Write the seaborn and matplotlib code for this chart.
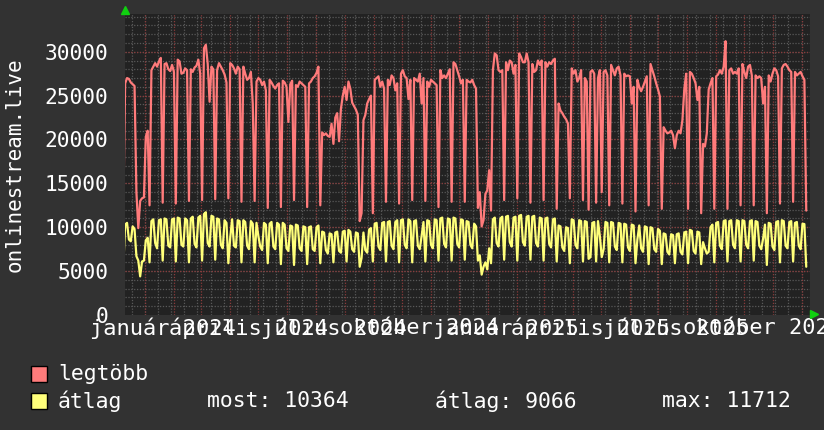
import pandas as pd
import matplotlib
matplotlib.use("Agg")
import matplotlib.pyplot as plt
import seaborn as sns
from matplotlib.patches import Rectangle

# ==================== DATA ====================
# 2-day buckets, first bucket 2023-12-09
START = "2023-12-09"

LEGTOBB = [
    11800,
    26400, 27000, 26900, 26500, 26300, 26100, 14000,
    9900, 13000, 13300, 13400, 20300, 21000, 12500,
    27900, 28300, 28700, 28300, 28900, 29300, 12800,
    28600, 28700, 28000, 27800, 28500, 27700, 12700,
    29100, 28900, 27500, 27600, 28100, 27900, 13000,
    28000, 27700, 28200, 28400, 29100, 27500, 13100,
    30400, 30800, 28600, 24300, 28300, 28000, 13200,
    27900, 28700, 28300, 27900, 27400, 26500, 13300,
    28700, 28500, 28100, 27500, 28300, 28000, 12900,
    28300, 27500, 26800, 27000, 27700, 24100, 13000,
    26600, 27000, 26800, 26200, 26600, 25600, 12200,
    26800, 26500, 26100, 25800, 26200, 26400, 12300,
    26700, 26500, 26000, 22000, 26300, 26700, 13100,
    26200, 26000, 26600, 26400, 26200, 26000, 12300,
    26400, 26600, 27000, 27200, 27600, 28300, 12500,
    20800, 20500, 20700, 20400, 20300, 21800, 19500,
    22500, 23000, 19800, 23500, 25000, 26000, 24500,
    26600, 25800, 24200, 23800, 23400, 22800, 10700,
    11600, 22200, 22800, 24100, 24600, 25000, 11600,
    26800, 27000, 27200, 26000, 26600, 25800, 12900,
    26800, 26200, 27300, 27000, 25600, 26400, 12700,
    27500, 27900, 27200, 27000, 24600, 26800, 13100,
    27000, 26800, 26600, 27500, 24100, 27000, 13000,
    26600, 26000, 26800, 26600, 26400, 26200, 12300,
    27900, 27000, 27300, 27000, 27500, 28000, 12900,
    28800, 28600, 27900, 27200, 26400, 26800, 12900,
    26800, 26600, 26500, 26800, 26200, 25800, 12200,
    14000, 10100, 10800, 13800, 14200, 16500, 11900,
    27900, 29800, 29600, 27900, 27700, 27900, 13100,
    28800, 27900, 29000, 28800, 27500, 28500, 13300,
    29800, 29400, 28800, 28800, 29800, 28800, 12800,
    28600, 27700, 27900, 29000, 28500, 29000, 13100,
    28800, 28300, 28800, 28600, 29000, 29200, 12100,
    24100, 23300, 23000, 22600, 22300, 21800, 13300,
    28100, 27500, 27900, 26600, 27000, 27900, 13100,
    27000, 26600, 12000, 27700, 27900, 27500, 12800,
    27000, 27900, 14000, 27700, 27900, 27300, 12500,
    28500, 27900, 27300, 28100, 28300, 27300, 12700,
    27500, 27200, 27300, 27200, 24100, 26000, 11800,
    26800, 26000, 25500, 26000, 26600, 27200, 12500,
    28600, 27900, 27200, 26400, 25700, 24900, 12100,
    21400, 21000, 20700, 20800, 21000, 20500, 19000,
    20500, 21000, 20700, 22200, 25700, 27500, 12100,
    27700, 27500, 27000, 26400, 24500, 26000, 11600,
    19500, 19200, 20700, 25700, 26400, 27000, 12100,
    27200, 27400, 27900, 27500, 28300, 31200, 12100,
    27900, 28100, 27500, 27700, 27500, 28100, 12500,
    28600, 27700, 27000, 28300, 28500, 27300, 12500,
    27300, 27000, 27200, 27000, 24100, 26000, 11600,
    27300, 26600, 27500, 28100, 27900, 27200, 12700,
    28100, 28500, 28600, 28300, 27900, 27700, 12900,
    27700, 27300, 27500, 27700, 27200, 26800, 11900,
]

ATLAG = [
    5600,
    10300, 10500, 8600, 8400, 10100, 9800, 6700,
    6200, 4400, 6100, 6200, 8500, 8800, 6000,
    10700, 10900, 8200, 7600, 10800, 10900, 6200,
    11000, 10900, 7900, 7700, 10900, 11000, 6100,
    11100, 11000, 8000, 7800, 11000, 10800, 6000,
    11000, 11200, 8100, 7700, 11100, 11300, 6200,
    11500, 11712, 8200, 7800, 11300, 11200, 6300,
    11000, 10900, 8000, 7600, 10800, 10500, 5900,
    8800, 10900, 7900, 7700, 10800, 10700, 6000,
    10800, 10600, 7900, 7500, 10700, 10400, 6000,
    10500, 9000, 7800, 7400, 10500, 10300, 5900,
    10400, 10600, 7800, 7500, 10500, 10300, 5800,
    10500, 10300, 7600, 7300, 10200, 10100, 5700,
    10300, 10200, 7600, 7300, 10100, 10000, 5800,
    10000, 10100, 7500, 7300, 10000, 10200, 5900,
    9500, 9400, 7400, 7000, 9300, 9200, 6000,
    9400, 9500, 7300, 7100, 9500, 9600, 6100,
    9700, 9500, 7500, 7200, 9400, 9300, 5500,
    6500, 9400, 7400, 7100, 9700, 9900, 6100,
    10400, 10500, 7800, 7400, 10500, 10600, 6100,
    10600, 10700, 7900, 7500, 10600, 10800, 6000,
    10800, 10900, 8000, 7600, 10900, 10700, 6000,
    10700, 10800, 7900, 7500, 9000, 10600, 6100,
    10800, 10700, 8000, 7600, 10900, 10800, 6200,
    11000, 11100, 8100, 7700, 11000, 10900, 6200,
    11100, 11000, 8100, 7700, 10900, 10800, 6300,
    10700, 10600, 8000, 7600, 10400, 10100, 6200,
    6800, 4600, 5500, 6000, 5200, 7600, 5900,
    10900, 11100, 8200, 7800, 11000, 11200, 6300,
    11200, 11300, 8300, 7800, 11100, 11200, 6200,
    11300, 11400, 8300, 7900, 11200, 11300, 6300,
    11200, 11300, 8200, 7800, 11100, 11000, 6200,
    11000, 11100, 8100, 7700, 10900, 11000, 6100,
    10200, 10100, 7700, 7300, 10000, 9900, 5900,
    10900, 10800, 8000, 7600, 10800, 10700, 6100,
    10700, 10600, 6400, 6600, 10500, 10600, 6100,
    10700, 9000, 6600, 7500, 10600, 10500, 6000,
    10600, 10500, 7800, 7400, 10500, 10400, 6000,
    10400, 10300, 7700, 7300, 10300, 10200, 5900,
    8600, 10200, 7600, 7200, 10100, 10000, 5800,
    10000, 9900, 7500, 7200, 9800, 9600, 5800,
    9300, 9200, 7200, 6900, 9200, 9100, 5900,
    9200, 9300, 7200, 6900, 9400, 9500, 5900,
    9700, 9600, 7300, 7000, 9500, 9400, 5800,
    8300, 7600, 7000, 7200, 10000, 10300, 6000,
    10500, 10600, 7900, 7500, 10700, 10800, 6100,
    10700, 10800, 8000, 7600, 10800, 10700, 6100,
    10800, 10700, 8000, 7600, 10700, 10800, 6200,
    10700, 10600, 7900, 7500, 8700, 10300, 5700,
    10500, 10400, 7800, 7400, 10600, 10700, 6000,
    10800, 10700, 7900, 7600, 10600, 10700, 6100,
    10500, 10600, 7900, 7500, 10400, 10364, 5500,
]

X_START = "2023-12-10 20:00"
X_END = "2025-12-10"
TICK_DATES = ["2024-01-20", "2024-04-20", "2024-07-20", "2024-10-20",
              "2025-01-20", "2025-04-20", "2025-07-20", "2025-10-20"]
TICK_LABELS = ["január 2024", "április 2024", "július 2024", "október 2024",
               "január 2025", "április 2025", "július 2025", "október 2025"]
Y_TICKS = [0, 5000, 10000, 15000, 20000, 25000, 30000]
Y_TOP = 34300
SERIES_NAMES = ["legtöbb", "átlag"]
STATS = ["most: 10364", "átlag: 9066", "max: 11712"]
Y_LABEL = "onlinestream.live"

# ==================== STYLE ====================
BG = "#323232"
PLOT_BG = "#222222"
C_RED = "#ff7b7b"
C_YEL = "#ffff7a"
C_MGRID = "#8a3b3b"
C_GRID = "#595959"
C_ARROW = "#10d010"

sns.set_theme(style="dark")
plt.rcParams["font.family"] = ["DejaVu Sans Mono"]

df = pd.DataFrame({
    "date": pd.date_range(START, periods=len(LEGTOBB), freq="2D"),
    "legtobb": LEGTOBB,
    "atlag": ATLAG,
})

W, H = 824, 430
fig = plt.figure(figsize=(W / 100, H / 100), dpi=100, facecolor=BG)
ax = fig.add_axes([125 / W, 115 / H, 685 / W, 301 / H])
ax.set_facecolor(PLOT_BG)

x0, x1 = pd.Timestamp(X_START), pd.Timestamp(X_END)

# grid
dots = (0, (1, 1.3))
minor_x = pd.date_range("2023-12-18", X_END, freq="14D")
major_x = pd.date_range("2024-01-01", X_END, freq="MS")
ax.vlines(minor_x, 0, Y_TOP, colors=C_GRID, linestyles=dots, lw=0.9, zorder=0.5)
ax.hlines(range(1000, Y_TOP, 1000), x0, x1, colors=C_GRID, linestyles=dots, lw=0.9, zorder=0.5)
ax.vlines(major_x, 0, Y_TOP, colors=C_MGRID, linestyles=dots, lw=0.9, zorder=0.6)
ax.hlines(Y_TICKS[1:], x0, x1, colors=C_MGRID, linestyles=dots, lw=0.9, zorder=0.6)

sns.lineplot(data=df, x="date", y="legtobb", ax=ax, color=C_RED, lw=1.6, zorder=3)
sns.lineplot(data=df, x="date", y="atlag", ax=ax, color=C_YEL, lw=1.6, zorder=4)

ax.set_xlim(x0, x1)
ax.set_ylim(0, Y_TOP)
ax.set_xlabel("")
ax.set_ylabel("")
for s in ax.spines.values():
    s.set_visible(False)

ax.set_yticks(Y_TICKS)
ax.set_yticklabels([str(v) for v in Y_TICKS])
ax.set_xticks(pd.to_datetime(TICK_DATES))
ax.set_xticklabels(TICK_LABELS)
ax.tick_params(axis="both", length=0, colors="white")
ax.tick_params(axis="y", pad=12, labelsize=15.3)
ax.tick_params(axis="x", pad=2, labelsize=15.8)
ax.grid(False)

# arrows
ax.plot([0], [1.012], marker="^", ms=6, color=C_ARROW, transform=ax.transAxes, clip_on=False)
ax.plot([1.006], [0.004], marker=">", ms=6, color=C_ARROW, transform=ax.transAxes, clip_on=False)

fig.text(15 / W, 1 - 165 / H, Y_LABEL, rotation=90, ha="center", va="center",
         color="white", fontsize=15)

# legend
for row, (name, col) in enumerate(zip(SERIES_NAMES, [C_RED, C_YEL])):
    yc = 374 + row * 27
    fig.patches.append(Rectangle((31 / W, 1 - (yc + 8) / H), 16 / W, 16 / H,
                                 transform=fig.transFigure, facecolor=col,
                                 edgecolor="black", lw=1))
    fig.text(58 / W, 1 - yc / H, name, ha="left", va="center", color="white", fontsize=15.4)

for xs, txt in zip([207, 435, 662], STATS):
    fig.text(xs / W, 1 - 401 / H, txt, ha="left", va="center", color="white", fontsize=15.4)

fig.savefig("out.png", dpi=100, facecolor=BG)
